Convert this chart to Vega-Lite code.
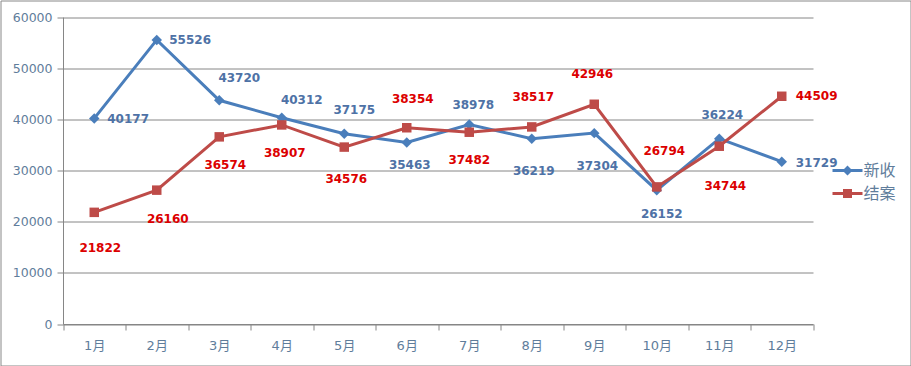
{
  "$schema": "https://vega.github.io/schema/vega-lite/v6.json",
  "width": 910,
  "height": 365,
  "autosize": {"type": "none"},
  "padding": {"left": 0.5, "top": 0.5, "right": 0.5, "bottom": 0.5},
  "background": "white",
  "config": {
    "view": {"stroke": "#888888", "strokeWidth": 1},
    "font": "DejaVu Sans",
    "text": {"font": "DejaVu Sans", "fontSize": 12, "fontWeight": "bold", "baseline": "middle", "align": "center"},
    "legend": {
      "title": null, "orient": "none", "legendX": 837, "legendY": 160, "padding": 0,
      "symbolSize": 400, "symbolStrokeWidth": 0, "symbolOpacity": 1,
      "labelFont": "Noto Sans CJK SC", "labelFontSize": 16, "labelColor": "#5F7D9B",
      "labelOffset": 6, "rowPadding": 5
    }
  },
  "data": {
    "values": [
      {"month": "1月", "series": "新收", "value": 40177},
      {"month": "2月", "series": "新收", "value": 55526},
      {"month": "3月", "series": "新收", "value": 43720},
      {"month": "4月", "series": "新收", "value": 40312},
      {"month": "5月", "series": "新收", "value": 37175},
      {"month": "6月", "series": "新收", "value": 35463},
      {"month": "7月", "series": "新收", "value": 38978},
      {"month": "8月", "series": "新收", "value": 36219},
      {"month": "9月", "series": "新收", "value": 37304},
      {"month": "10月", "series": "新收", "value": 26152},
      {"month": "11月", "series": "新收", "value": 36224},
      {"month": "12月", "series": "新收", "value": 31729},
      {"month": "1月", "series": "结案", "value": 21822},
      {"month": "2月", "series": "结案", "value": 26160},
      {"month": "3月", "series": "结案", "value": 36574},
      {"month": "4月", "series": "结案", "value": 38907},
      {"month": "5月", "series": "结案", "value": 34576},
      {"month": "6月", "series": "结案", "value": 38354},
      {"month": "7月", "series": "结案", "value": 37482},
      {"month": "8月", "series": "结案", "value": 38517},
      {"month": "9月", "series": "结案", "value": 42946},
      {"month": "10月", "series": "结案", "value": 26794},
      {"month": "11月", "series": "结案", "value": 34744},
      {"month": "12月", "series": "结案", "value": 44509}
    ]
  },
  "encoding": {
    "x": {
      "field": "month", "type": "ordinal",
      "sort": ["1月","2月","3月","4月","5月","6月","7月","8月","9月","10月","11月","12月"],
      "scale": {"type": "band", "paddingInner": 0, "paddingOuter": 0, "range": [62.5, 812.5]},
      "bandPosition": 0.5,
      "axis": {
        "title": null, "tickBand": "extent", "grid": false, "labelAngle": 0, "offset": -41.5,
        "domainColor": "#868686", "tickColor": "#868686", "tickSize": 6,
        "labelColor": "#5F7D9B", "labelFont": "DejaVu Sans, Noto Sans CJK SC", "labelFontSize": 13, "labelPadding": 9
      }
    },
    "y": {
      "field": "value", "type": "quantitative",
      "scale": {"domain": [0, 60000], "nice": false, "range": [323.5, 16.5]},
      "axis": {
        "title": null, "values": [0, 10000, 20000, 30000, 40000, 50000, 60000], "format": "d", "offset": -62.5,
        "grid": true, "gridColor": "#868686",
        "domainColor": "#868686", "tickColor": "#868686", "tickSize": 6,
        "labelColor": "#5F7D9B", "labelFont": "DejaVu Sans", "labelFontSize": 12.5, "labelPadding": 5
      }
    },
    "color": {
      "field": "series", "type": "nominal",
      "scale": {"domain": ["新收", "结案"], "range": ["#4A7EBB", "#BE4B48"]},
      "legend": {
        "encode": {
          "symbols": {
            "update": {
              "shape": {"signal": "datum.value == '新收' ? 'M-1.5,-0.15L1.5,-0.15L1.5,0.15L-1.5,0.15Z M0,-0.5L0.5,0L0,0.5L-0.5,0Z' : 'M-1.5,-0.15L1.5,-0.15L1.5,0.15L-1.5,0.15Z M-0.45,-0.45L0.45,-0.45L0.45,0.45L-0.45,0.45Z'"},
              "fill": {"signal": "datum.value == '新收' ? '#4A7EBB' : '#BE4B48'"},
              "stroke": {"value": "transparent"},
              "strokeWidth": {"value": 0},
              "size": {"value": 400}
            }
          }
        }
      }
    }
  },
  "layer": [
    {
      "mark": {"type": "line", "strokeWidth": 3}
    },
    {
      "transform": [{"filter": "datum.series=='新收'"}],
      "mark": {"type": "point", "filled": true, "opacity": 1, "shape": "diamond", "size": 110}
    },
    {
      "transform": [{"filter": "datum.series=='结案'"}],
      "mark": {"type": "point", "filled": true, "opacity": 1, "shape": "square", "size": 90}
    },
    {
      "encoding": {"text": {"field": "value", "type": "quantitative", "format": "d"}, "color": {"value": null}},
      "layer": [
        {"transform": [{"filter": "datum.series=='新收' && datum.month=='1月'"}], "mark": {"type": "text", "fill": "#4E72A6", "align": "left", "dx": 13, "dy": 1}},
        {"transform": [{"filter": "datum.series=='新收' && datum.month=='2月'"}], "mark": {"type": "text", "fill": "#4E72A6", "align": "left", "dx": 12.5, "dy": 0}},
        {"transform": [{"filter": "datum.series=='新收' && datum.month=='3月'"}], "mark": {"type": "text", "fill": "#4E72A6", "dx": 20, "dy": -22}},
        {"transform": [{"filter": "datum.series=='新收' && datum.month=='4月'"}], "mark": {"type": "text", "fill": "#4E72A6", "dx": 20, "dy": -18}},
        {"transform": [{"filter": "datum.series=='新收' && datum.month=='5月'"}], "mark": {"type": "text", "fill": "#4E72A6", "dx": 10, "dy": -24}},
        {"transform": [{"filter": "datum.series=='新收' && datum.month=='6月'"}], "mark": {"type": "text", "fill": "#4E72A6", "dx": 3, "dy": 22}},
        {"transform": [{"filter": "datum.series=='新收' && datum.month=='7月'"}], "mark": {"type": "text", "fill": "#4E72A6", "dx": 4, "dy": -20}},
        {"transform": [{"filter": "datum.series=='新收' && datum.month=='8月'"}], "mark": {"type": "text", "fill": "#4E72A6", "dx": 2, "dy": 32}},
        {"transform": [{"filter": "datum.series=='新收' && datum.month=='9月'"}], "mark": {"type": "text", "fill": "#4E72A6", "dx": 3, "dy": 33}},
        {"transform": [{"filter": "datum.series=='新收' && datum.month=='10月'"}], "mark": {"type": "text", "fill": "#4E72A6", "dx": 5, "dy": 24}},
        {"transform": [{"filter": "datum.series=='新收' && datum.month=='11月'"}], "mark": {"type": "text", "fill": "#4E72A6", "dx": 3, "dy": -24}},
        {"transform": [{"filter": "datum.series=='新收' && datum.month=='12月'"}], "mark": {"type": "text", "fill": "#4E72A6", "align": "left", "dx": 14, "dy": 1}},
        {"transform": [{"filter": "datum.series=='结案' && datum.month=='1月'"}], "mark": {"type": "text", "fill": "#DC0000", "dx": 6, "dy": 36}},
        {"transform": [{"filter": "datum.series=='结案' && datum.month=='2月'"}], "mark": {"type": "text", "fill": "#DC0000", "dx": 11, "dy": 29}},
        {"transform": [{"filter": "datum.series=='结案' && datum.month=='3月'"}], "mark": {"type": "text", "fill": "#DC0000", "dx": 6, "dy": 28}},
        {"transform": [{"filter": "datum.series=='结案' && datum.month=='4月'"}], "mark": {"type": "text", "fill": "#DC0000", "dx": 3, "dy": 28}},
        {"transform": [{"filter": "datum.series=='结案' && datum.month=='5月'"}], "mark": {"type": "text", "fill": "#DC0000", "dx": 2, "dy": 32}},
        {"transform": [{"filter": "datum.series=='结案' && datum.month=='6月'"}], "mark": {"type": "text", "fill": "#DC0000", "dx": 6, "dy": -29}},
        {"transform": [{"filter": "datum.series=='结案' && datum.month=='7月'"}], "mark": {"type": "text", "fill": "#DC0000", "dx": 0, "dy": 28}},
        {"transform": [{"filter": "datum.series=='结案' && datum.month=='8月'"}], "mark": {"type": "text", "fill": "#DC0000", "dx": 1.5, "dy": -30}},
        {"transform": [{"filter": "datum.series=='结案' && datum.month=='9月'"}], "mark": {"type": "text", "fill": "#DC0000", "dx": -2, "dy": -30}},
        {"transform": [{"filter": "datum.series=='结案' && datum.month=='10月'"}], "mark": {"type": "text", "fill": "#DC0000", "dx": 7.5, "dy": -35.5}},
        {"transform": [{"filter": "datum.series=='结案' && datum.month=='11月'"}], "mark": {"type": "text", "fill": "#DC0000", "dx": 6, "dy": 40}},
        {"transform": [{"filter": "datum.series=='结案' && datum.month=='12月'"}], "mark": {"type": "text", "fill": "#DC0000", "align": "left", "dx": 14, "dy": 0}}
      ]
    }
  ]
}
